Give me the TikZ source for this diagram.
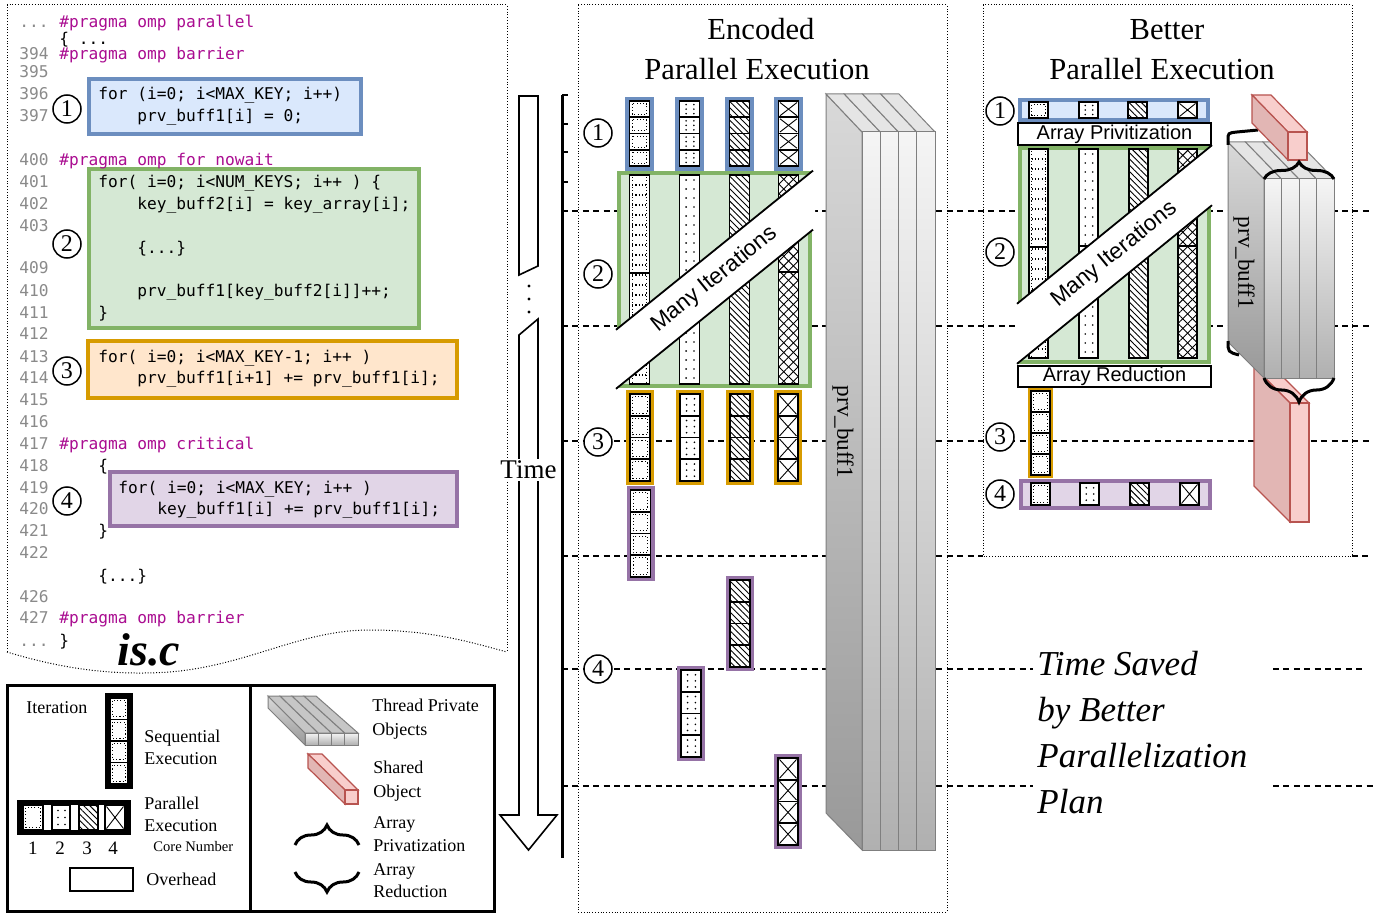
\documentclass[tikz,border=0pt]{standalone}
\usepackage{fontspec}
\setmainfont{Liberation Serif}
\newfontfamily\sansf{Liberation Sans}
\newfontfamily\monof{DejaVu Sans Mono}
\usetikzlibrary{calc,patterns.meta,decorations.pathreplacing}
\definecolor{bluB}{HTML}{6C8EBF}
\definecolor{bluF}{HTML}{DAE8FC}
\definecolor{grnB}{HTML}{82B366}
\definecolor{grnF}{HTML}{D5E8D4}
\definecolor{orgB}{HTML}{D79B00}
\definecolor{orgF}{HTML}{FFE6CC}
\definecolor{purB}{HTML}{9673A6}
\definecolor{purF}{HTML}{E1D5E7}
\definecolor{redB}{HTML}{B85450}
\definecolor{redF}{HTML}{F8CECC}
\definecolor{redD}{HTML}{E2B6B4}
\definecolor{kw}{HTML}{AA0D91}
\definecolor{lnumc}{HTML}{8A8A8A}
\definecolor{slabE}{HTML}{7F7F7F}
\tikzset{
  cellb/.style={draw=black,line width=0.9pt,fill=white},
  cellline/.style={draw=black,line width=0.9pt},
  dotl/.style={line width=0.55pt,dash pattern=on 0.55pt off 1.1pt},
  dashl/.style={line width=0.6pt,dash pattern=on 3pt off 2.2pt},
  dotb/.style={line width=0.5pt,dash pattern=on 0.5pt off 0.9pt},
  numc/.style={circle,draw,fill=white,line width=0.75pt,minimum size=14pt,inner sep=0pt,font=\fontsize{12}{12}\selectfont},
  code/.style={font=\monof\fontsize{8.1}{9}\selectfont,anchor=base west,inner sep=0pt},
  lnum/.style={code,anchor=base east,text=lnumc},
  prag/.style={code,text=kw},
  leg/.style={font=\fontsize{9}{10}\selectfont,anchor=base west,inner sep=0pt},
  ttl/.style={font=\fontsize{15.3}{16}\selectfont,anchor=base,inner sep=0pt},
  slabedge/.style={draw=slabE,line width=0.5pt},
  frontsh/.style={slabedge,top color=gray!8,bottom color=gray!62},
  sidesh/.style={slabedge,top color=gray!30,bottom color=gray!80},
  topsh/.style={slabedge,fill=gray!20},
  rside/.style={draw=redB,line width=0.6pt,fill=redD},
  rfront/.style={draw=redB,line width=0.6pt,fill=redF},
  brc/.style={decorate,line width=1.5pt},
  pC/.style={pattern={Lines[angle=-45,distance=2.2pt,line width=0.45pt]}},
  pD1/.style={pattern={Lines[angle=45,distance=3.4pt,line width=0.45pt]}},
  pD2/.style={pattern={Lines[angle=-45,distance=3.4pt,line width=0.45pt]}},
  band/.style={font=\sansf\fontsize{11.3}{12}\selectfont,inner sep=0pt},
  boxlab/.style={draw,line width=0.8pt,fill=white},
}
% cells: x0 y0 x1 y1
\newcommand\cellA[4]{%
  \draw[cellb] (#1,#2) rectangle (#3,#4);
  \draw[dotl] ($(#1,#2)+(2.6,2.6)$) rectangle ($(#3,#4)+(-2.6,-2.6)$);}
\newcommand\cellB[4]{%
  \draw[cellb] (#1,#2) rectangle (#3,#4);
  \foreach \fx in {0.33,0.72}{\foreach \fy in {0.22,0.5,0.78}{%
    \pgfmathsetmacro\qx{(#1)+\fx*((#3)-(#1))}\pgfmathsetmacro\qy{(#2)+\fy*((#4)-(#2))}%
    \fill (\qx,\qy) circle (0.45pt);}}}
\newcommand\cellC[4]{%
  \draw[cellb] (#1,#2) rectangle (#3,#4);
  \fill[pC] (#1,#2) rectangle (#3,#4);
  \draw[cellline] (#1,#2) rectangle (#3,#4);}
\newcommand\cellD[4]{%
  \draw[cellb] (#1,#2) rectangle (#3,#4);
  \draw[line width=0.45pt] ($(#1,#2)+(1.5,1.5)$) -- ($(#3,#4)+(-1.5,-1.5)$) ($(#1,#4)+(1.5,-1.5)$) -- ($(#3,#2)+(-1.5,1.5)$);}
\newcommand\stack[6]{%
  \foreach \kk in {1,...,#6}{%
    \pgfmathsetmacro\sya{(#3)+(\kk-1)*((#5)-(#3))/(#6)}%
    \pgfmathsetmacro\syb{(#3)+\kk*((#5)-(#3))/(#6)}%
    \csname cell#1\endcsname{#2}{\sya}{#4}{\syb}}}
\newcommand\tallA[4]{%
  \draw[cellb] (#1,#2) rectangle (#3,#4);
  \pgfmathsetmacro\ta{(#1)+2.6}\pgfmathsetmacro\tb{(#3)-2.6}%
  \draw[dotl] (\ta,{#2+2}) -- (\ta,{#4-2}) (\tb,{#2+2}) -- (\tb,{#4-2});
  \pgfmathsetmacro\tc{(#2)+10}\pgfmathsetmacro\td{(#2)+20}\pgfmathsetmacro\te{(#4)-5}%
  \foreach \yy in {\tc,\td,...,\te} {\draw[dotl] (\ta,\yy) -- (\tb,\yy);}
  \draw[cellline] (#1,#2) rectangle (#3,#4);}
\newcommand\tallB[4]{%
  \draw[cellb] (#1,#2) rectangle (#3,#4);
  \pgfmathsetmacro\ta{(#1)+0.33*((#3)-(#1))}\pgfmathsetmacro\tb{(#1)+0.72*((#3)-(#1))}%
  \pgfmathsetmacro\tc{(#2)+5}\pgfmathsetmacro\td{(#2)+14}\pgfmathsetmacro\te{(#4)-4}%
  \foreach \yy in {\tc,\td,...,\te} {\fill (\ta,\yy) circle (0.45pt) (\tb,\yy) circle (0.45pt);}}
\newcommand\tallC[4]{%
  \draw[cellb] (#1,#2) rectangle (#3,#4);
  \fill[pC] (#1,#2) rectangle (#3,#4);
  \draw[cellline] (#1,#2) rectangle (#3,#4);}
\newcommand\tallD[4]{%
  \draw[cellb] (#1,#2) rectangle (#3,#4);
  \fill[pD1] (#1,#2) rectangle (#3,#4);
  \fill[pD2] (#1,#2) rectangle (#3,#4);
  \draw[cellline] (#1,#2) rectangle (#3,#4);}

\begin{document}
\begin{tikzpicture}[x=0.5pt,y=-0.5pt]
\useasboundingbox (0,0) rectangle (1382,915);
\fill[white] (0,0) rectangle (1382,915);

% ---------------- dashed time lines ----------------
\foreach \yy in {211,326,441}{\draw[dashl] (562,\yy) -- (1372,\yy);}
\draw[dashl] (562,556) -- (983,556);
\draw[dashl] (1352,556) -- (1372,556);
\draw[dashl] (562,669) -- (1033,669);
\draw[dashl] (1273,669) -- (1366,669);
\draw[dashl] (562,786) -- (1033,786);
\draw[dashl] (1273,786) -- (1373,786);

% ---------------- panel borders ----------------
\draw[dotb] (578,5) rectangle (947,912);
\draw[dotb] (983,5) rectangle (1352,556);
\draw[dotb] (7,652) -- (7,5) -- (507,5) -- (507,652);
\draw[dotb] (7,652) .. controls (60,668) and (110,676) .. (170,672) .. controls (250,665) and (300,630) .. (370,630) .. controls (430,630) and (470,642) .. (507,652);

% titles
\node[ttl] (t1a) at (761,40) {Encoded};
\node[ttl] (t1b) at (757,80) {Parallel Execution};
\node[ttl] (t2a) at (1167,40) {Better};
\node[ttl] (t2b) at (1162,80) {Parallel Execution};

% ---------------- middle panel ----------------
\foreach \cx/\ty in {639.5/A,689.5/B,739.5/C,788.5/D}{
  \pgfmathsetmacro\xa{\cx-10}\pgfmathsetmacro\xb{\cx+10}
  \fill[bluB] ({\cx-14.5},97) rectangle ({\cx+14.5},171);
  \stack{\ty}{\xa}{101}{\xb}{166}{4}
}
\draw[draw=grnB,fill=grnF,line width=2pt] (619,173) rectangle (810,386);
\tallA{629.5}{175}{649.5}{384}
\tallB{679.5}{175}{699.5}{384}
\tallC{729.5}{175}{749.5}{384}
\tallD{778.5}{175}{798.5}{384}
\draw[cellline] (629.5,273) -- (649.5,273);
\draw[cellline] (778.5,272) -- (798.5,272);
\fill[white] (614,331.4) -- (815,169) -- (815,228) -- (614,390.4) -- cycle;
\draw[line width=0.9pt] (616,329.8) -- (813,170.6);
\draw[line width=0.9pt] (616,388.8) -- (813,229.6);
\node[band,rotate=38.9] (mi1) at (714.5,279.5) {Many Iterations};

\foreach \cx/\ty in {640/A,690/B,740/C,788/D}{
  \pgfmathsetmacro\xa{\cx-10}\pgfmathsetmacro\xb{\cx+10}
  \fill[orgB] ({\cx-14},390) rectangle ({\cx+14},485);
  \stack{\ty}{\xa}{394}{\xb}{481}{4}
}
\foreach \cx/\ty/\ya in {640.5/A/486,740/C/576,691/B/666,788/D/754}{
  \pgfmathsetmacro\xa{\cx-10}\pgfmathsetmacro\xb{\cx+10}
  \pgfmathsetmacro\yb{\ya+4}\pgfmathsetmacro\yc{\ya+91}
  \fill[purB] ({\cx-14},\ya) rectangle ({\cx+14},{\ya+95});
  \stack{\ty}{\xa}{\yb}{\xb}{\yc}{4}
}
% slab middle
\draw[sidesh] (826,94) -- (862,132) -- (862,850) -- (826,813) -- cycle;
\foreach \i in {0,1,2,3}{
  \pgfmathsetmacro\ba{826+18.25*\i}\pgfmathsetmacro\bb{826+18.25*(\i+1)}
  \pgfmathsetmacro\fa{862+18.25*\i}\pgfmathsetmacro\fb{862+18.25*(\i+1)}
  \draw[topsh] (\ba,94) -- (\bb,94) -- (\fb,132) -- (\fa,132) -- cycle;
  \draw[frontsh] (\fa,132) rectangle (\fb,850);
}
\node[rotate=-90,font=\fontsize{11.6}{12}\selectfont,inner sep=0pt] (pb1) at (843,432) {prv\_buff1};

\node[numc] (m1) at (598,133) {1};
\node[numc] (m2) at (598,274) {2};
\node[numc] (m3) at (598,442) {3};
\node[numc] (m4) at (598,669) {4};

% ---------------- right panel ----------------
\draw[draw=bluB,fill=bluF,line width=2pt] (1020,100) rectangle (1208,120);
\cellA{1029}{102}{1048}{118}
\cellB{1079}{102}{1098}{118}
\cellC{1128}{102}{1147}{118}
\cellD{1178}{102}{1197}{118}
\node[boxlab,minimum width=96.5pt,minimum height=11pt,inner sep=0pt,font=\sansf\fontsize{10}{11}\selectfont] (ap) at (1114.5,134) {Array Privitization};
\draw[draw=grnB,fill=grnF,line width=2pt] (1020,148) rectangle (1209,362);
\tallA{1029}{149}{1048}{358}
\tallB{1079}{149}{1098}{358}
\tallC{1129}{149}{1148}{358}
\tallD{1178}{149}{1197}{358}
\draw[cellline] (1029,247) -- (1048,247);
\draw[cellline] (1079,246) -- (1098,246);
\draw[cellline] (1178,246) -- (1197,246);
\fill[white] (1015,305.4) -- (1214,143.6) -- (1214,203.6) -- (1015,365.4) -- cycle;
\draw[line width=0.9pt] (1017,303.8) -- (1212,145.2);
\draw[line width=0.9pt] (1017,363.8) -- (1212,205.2);
\node[band,rotate=39.1] (mi2) at (1114.5,254.5) {Many Iterations};
\node[boxlab,minimum width=96.5pt,minimum height=10.5pt,inner sep=0pt,font=\sansf\fontsize{10}{11}\selectfont] (ar) at (1114.5,376.5) {Array Reduction};
\fill[orgB] (1028,388) rectangle (1053,478);
\stack{A}{1031}{391}{1050}{475}{4}
\draw[draw=purB,fill=purF,line width=2pt] (1021,481) rectangle (1210,508);
\cellA{1031}{483}{1050}{505}
\cellB{1080}{483}{1099}{505}
\cellC{1130}{483}{1149}{505}
\cellD{1180}{483}{1199}{505}
\node[numc] (r1) at (1000,111) {1};
\node[numc] (r2) at (1000,252) {2};
\node[numc] (r3) at (1000,437) {3};
\node[numc] (r4) at (1000,494) {4};

% red bottom bar (behind slab)
\draw[rfront] (1254,367) -- (1273,367) -- (1309,403) -- (1290,403) -- cycle;
\draw[rside] (1254,367) -- (1290,403) -- (1290,522) -- (1254,486) -- cycle;
\draw[rfront] (1290,403) rectangle (1309,522);
% slab right
\draw[sidesh] (1228,142) -- (1264,179) -- (1264,378) -- (1228,342) -- cycle;
\foreach \i in {0,1,2,3}{
  \pgfmathsetmacro\ba{1228+17.5*\i}\pgfmathsetmacro\bb{1228+17.5*(\i+1)}
  \pgfmathsetmacro\fa{1264+17.5*\i}\pgfmathsetmacro\fb{1264+17.5*(\i+1)}
  \draw[topsh] (\ba,142) -- (\bb,142) -- (\fb,179) -- (\fa,179) -- cycle;
  \draw[frontsh] (\fa,179) rectangle (\fb,378);
}
\node[rotate=-90,font=\fontsize{11.6}{12}\selectfont,inner sep=0pt] (pb2) at (1244,263) {prv\_buff1};
\draw[line width=1.5pt] (1228,145) -- (1228,140) .. controls (1228,133) .. (1237,132) -- (1258,130);
\draw[line width=1.5pt] (1228,341) .. controls (1228,352) .. (1239,355);
% red top bar
\draw[rfront] (1252,95) -- (1271,95) -- (1307,132) -- (1288,132) -- cycle;
\draw[rside] (1252,95) -- (1288,132) -- (1288,160) -- (1252,123) -- cycle;
\draw[rfront] (1288,132) rectangle (1307,160);
\draw[brc,decoration={brace,amplitude=8.5pt}] (1264,179) -- (1334,179);
\draw[brc,decoration={brace,mirror,amplitude=12pt}] (1264,378) -- (1334,378);

% time saved
\begin{scope}[every node/.style={font=\itshape\fontsize{17.5}{18}\selectfont,anchor=base west,inner sep=0pt}]
\node (ts1) at (1037,675) {Time Saved};
\node (ts2) at (1037,721) {by Better};
\node (ts3) at (1037,767) {Parallelization};
\node (ts4) at (1037,813) {Plan};
\end{scope}

% ---------------- time axis & arrow ----------------
\draw[line width=1.5pt] (562,95) -- (562,858);
\foreach \yy in {95,124,152,182,211,326,441,556,669,786}{\draw[line width=0.9pt] (562,\yy) -- (568,\yy);}
\draw[line width=0.8pt,fill=white] (519,275) -- (519,96) -- (538,96) -- (538,266) -- cycle;
\fill (529,286) circle (1.6) (529,299) circle (1.6) (529,312) circle (1.6);
\draw[line width=0.8pt,fill=white] (519,335) -- (538,319) -- (538,815) -- (557,815) -- (528.5,850) -- (500,815) -- (519,815) -- cycle;
\node[fill=white,inner sep=1pt,font=\fontsize{13.5}{14}\selectfont] (time) at (528.5,470) {Time};

% ---------------- code panel ----------------
\draw[draw=bluB,fill=bluF,line width=2.2pt] (89,79) rectangle (361,134);
\draw[draw=grnB,fill=grnF,line width=2.2pt] (89,169) rectangle (419,328);
\draw[draw=orgB,fill=orgF,line width=2.2pt] (88,341) rectangle (457,398);
\draw[draw=purB,fill=purF,line width=2.2pt] (110,472) rectangle (457,526);
\foreach \n/\yb in {394/60,395/78,396/100,397/122,400/165,401/187,402/209,403/231,409/273,410/296,411/318,412/339,413/362,414/383,415/405,416/427,417/449,418/471,419/493,420/514,421/536,422/558,426/602,427/623}{
  \node[lnum] (ln\n) at (49,\yb) {\n};}
\node[lnum] (dots1) at (49,28) {...};
\node[lnum] (dots2) at (49,646) {...};
\node[prag] (p1) at (59,28) {\#pragma omp parallel};
\node[code] (k0) at (59,45) {\{ ...};
\node[prag] (p2) at (59,60) {\#pragma omp barrier};
\node[code] (k1) at (98,100) {for (i=0; i<MAX\_KEY; i++)};
\node[code] (k2) at (137,122) {prv\_buff1[i] = 0;};
\node[prag] (p3) at (59,165) {\#pragma omp for nowait};
\node[code] (k3) at (98,187) {for( i=0; i<NUM\_KEYS; i++ ) \{};
\node[code] (k4) at (137,209) {key\_buff2[i] = key\_array[i];};
\node[code] (k5) at (137,253) {\{...\}};
\node[code] (k6) at (137,296) {prv\_buff1[key\_buff2[i]]++;};
\node[code] (k7) at (98,318) {\}};
\node[code] (k8) at (98,362) {for( i=0; i<MAX\_KEY-1; i++ )};
\node[code] (k9) at (137,383) {prv\_buff1[i+1] += prv\_buff1[i];};
\node[prag] (p4) at (59,449) {\#pragma omp critical};
\node[code] (k10) at (98,471) {\{};
\node[code] (k11) at (118,493) {for( i=0; i<MAX\_KEY; i++ )};
\node[code] (k12) at (157,514) {key\_buff1[i] += prv\_buff1[i];};
\node[code] (k13) at (98,536) {\}};
\node[code] (k14) at (98,581) {\{...\}};
\node[prag] (p5) at (59,623) {\#pragma omp barrier};
\node[code] (k15) at (59,646) {\}};
\node[numc] (c1) at (67,109) {1};
\node[numc] (c2) at (67,244) {2};
\node[numc] (c3) at (67,371) {3};
\node[numc] (c4) at (67,501) {4};
\node[font=\bfseries\itshape\fontsize{23}{24}\selectfont,anchor=base west,inner sep=0pt] (isc) at (117,665) {is.c};

% ---------------- legend ----------------
\draw[line width=1.5pt] (7,685) rectangle (494,911);
\draw[line width=1.5pt] (250,685) -- (250,911);
\node[leg] (lit) at (26,713) {Iteration};
\fill[black] (105,693) rectangle (133,789);
\stack{A}{110}{698}{128}{784}{4}
\node[leg] (lse1) at (144,742) {Sequential};
\node[leg] (lse2) at (144,764) {Execution};
\fill[black] (17,800) rectangle (131,835);
\fill[white] (23,805) rectangle (125,830);
\cellA{23}{805}{43}{830}
\cellB{52}{805}{70}{830}
\cellC{79}{805}{98}{830}
\cellD{105}{805}{125}{830}
\node[leg] (lpe1) at (144,809) {Parallel};
\node[leg] (lpe2) at (144,831) {Execution};
\foreach \nn/\xx in {1/33,2/60,3/87,4/113}{\node[font=\fontsize{9.5}{10}\selectfont,anchor=base,inner sep=0pt] (cn\nn) at (\xx,854) {\nn};}
\node[font=\fontsize{7.3}{8}\selectfont,anchor=base west,inner sep=0pt] (lcn) at (153,851) {Core Number};
\draw[line width=0.7pt] (70,868) rectangle (133,891);
\node[leg] (lov) at (146,885) {Overhead};
% thread private icon
\draw[sidesh] (268,696) -- (305,733) -- (305,745) -- (268,708) -- cycle;
\foreach \i in {0,1,2,3}{
  \pgfmathsetmacro\ba{268+12*\i}\pgfmathsetmacro\bb{268+12*(\i+1)}
  \pgfmathsetmacro\fa{305+13.25*\i}\pgfmathsetmacro\fb{305+13.25*(\i+1)}
  \draw[slabedge,fill=gray!45] (\ba,696) -- (\bb,696) -- (\fb,733) -- (\fa,733) -- cycle;
  \draw[frontsh] (\fa,733) rectangle (\fb,745);
}
\node[leg] (ltp1) at (372,711) {Thread Private};
\node[leg] (ltp2) at (372,735) {Objects};
% shared icon
\draw[rfront] (308,754) -- (322,754) -- (358,790) -- (345,790) -- cycle;
\draw[rside] (308,754) -- (345,790) -- (345,804) -- (308,768) -- cycle;
\draw[rfront] (345,790) rectangle (358,804);
\node[leg] (lso1) at (373,773) {Shared};
\node[leg] (lso2) at (373,797) {Object};
\draw[brc,decoration={brace,amplitude=10pt}] (295,845) -- (359,845);
\draw[brc,decoration={brace,mirror,amplitude=10pt}] (295,872) -- (359,872);
\node[leg] (lap1) at (373,828) {Array};
\node[leg] (lap2) at (373,851) {Privatization};
\node[leg] (lar1) at (373,875) {Array};
\node[leg] (lar2) at (373,897) {Reduction};
\end{tikzpicture}
\end{document}
